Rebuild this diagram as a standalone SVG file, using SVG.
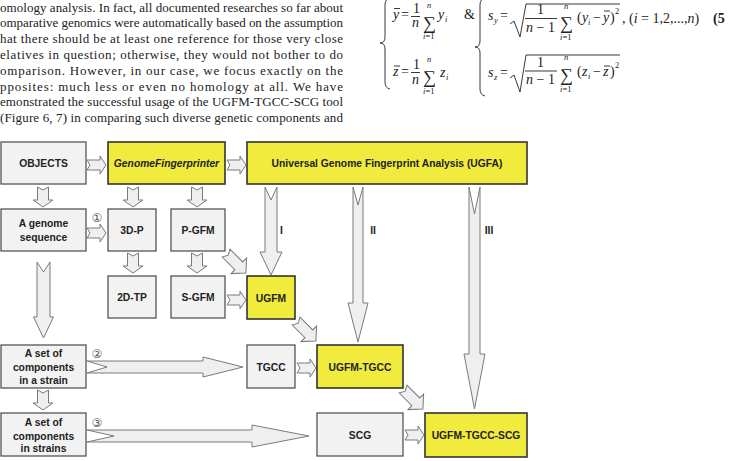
<svg xmlns="http://www.w3.org/2000/svg" width="729" height="461" viewBox="0 0 729 461">
<style>
.box{fill:#f2f2f2;stroke:#555;stroke-width:1.3}
.ybox{fill:#f0eb3c;stroke:#333;stroke-width:1.6}
.lbl{font-family:"Liberation Sans",Arial,sans-serif;font-weight:bold;font-size:10.3px;fill:#222;text-anchor:middle}
.arr{fill:#efefef;stroke:#7a7a7a;stroke-width:1;stroke-linejoin:miter}
.para{font-family:"Liberation Serif","Times New Roman",serif;font-size:13px;fill:#222}
.m{font-family:"Liberation Serif","Times New Roman",serif;font-size:14px;fill:#222}
.mi{font-family:"Liberation Serif","Times New Roman",serif;font-size:14px;font-style:italic;fill:#222}
.s{font-family:"Liberation Serif","Times New Roman",serif;font-size:8.5px;fill:#222}
.si{font-family:"Liberation Serif","Times New Roman",serif;font-size:8.5px;font-style:italic;fill:#222}
.sig{font-family:"Liberation Serif","Times New Roman",serif;font-size:18px;fill:#222}
.ml{stroke:#222;stroke-width:0.9;fill:none}
.circ{font-family:"DejaVu Sans",sans-serif;font-size:12px;fill:#555;text-anchor:middle}
</style>
<rect width="729" height="461" fill="#fff"/>

<g id="paragraph">
<text class="para" x="0" y="11.5" textLength="343" lengthAdjust="spacing">omology analysis. In fact, all documented researches so far about</text>
<text class="para" x="0" y="27.3" textLength="343" lengthAdjust="spacing">omparative genomics were automatically based on the assumption</text>
<text class="para" x="0" y="43.1" textLength="343" lengthAdjust="spacing">hat there should be at least one reference for those very close</text>
<text class="para" x="0" y="58.9" textLength="343" lengthAdjust="spacing">elatives in question; otherwise, they would not bother to do</text>
<text class="para" x="0" y="74.7" textLength="343" lengthAdjust="spacing">omparison. However, in our case, we focus exactly on the</text>
<text class="para" x="0" y="90.5" textLength="343" lengthAdjust="spacing">pposites: much less or even no homology at all. We have</text>
<text class="para" x="0" y="106.3" textLength="343" lengthAdjust="spacing">emonstrated the successful usage of the UGFM-TGCC-SCG tool</text>
<text class="para" x="0" y="122.1" textLength="343" lengthAdjust="spacing">(Figure 6, 7) in comparing such diverse genetic components and</text>
</g>

<g id="formula">
<path class="ml" d="M390,-2 Q385,-1 385,5 L385,37 Q385,43 380,43 Q385,43 385,49 L385,82 Q385,88 390,89" stroke-width="1.4"/>
<path class="ml" d="M485,-2 Q480,-1 480,5 L480,41 Q480,47 475,47 Q480,47 480,53 L480,89 Q480,95 485,96" stroke-width="1.4"/>
<text class="mi" x="393" y="19">y</text>
<line class="ml" x1="394" y1="8.5" x2="400" y2="8.5"/>
<text class="m" x="401" y="19">=</text>
<text class="m" x="413" y="13" font-size="12">1</text>
<line class="ml" x1="411" y1="16.5" x2="420" y2="16.5"/>
<text class="mi" x="412" y="27" font-size="13">n</text>
<text class="si" x="427" y="8">n</text>
<text class="sig" x="423" y="28.5">∑</text>
<text class="s" x="423" y="39"><tspan font-style="italic">i</tspan>=1</text>
<text class="mi" x="438" y="19">y</text>
<text class="si" x="445" y="22">i</text>
<text class="m" x="464" y="19">&amp;</text>
<text class="mi" x="393" y="76">z</text>
<line class="ml" x1="394" y1="66" x2="400" y2="66"/>
<text class="m" x="401" y="76">=</text>
<text class="m" x="413" y="69" font-size="12">1</text>
<line class="ml" x1="411" y1="72.5" x2="420" y2="72.5"/>
<text class="mi" x="412" y="84" font-size="13">n</text>
<text class="si" x="427" y="62">n</text>
<text class="sig" x="423" y="83">∑</text>
<text class="s" x="423" y="94"><tspan font-style="italic">i</tspan>=1</text>
<text class="mi" x="440" y="77">z</text>
<text class="si" x="446" y="80">i</text>
<text class="mi" x="488" y="20">s</text>
<text class="si" x="494" y="23">y</text>
<text class="m" x="500" y="20">=</text>
<path class="ml" d="M510,24 L514,21 L520,37 L526,4 L620,4"/>
<text class="m" x="537" y="14" font-size="13">1</text>
<line class="ml" x1="525" y1="18.5" x2="557" y2="18.5"/>
<text class="m" x="526" y="32" font-size="13"><tspan font-style="italic">n</tspan> − 1</text>
<text class="si" x="564" y="8.5">n</text>
<text class="sig" x="560" y="29">∑</text>
<text class="s" x="560" y="40"><tspan font-style="italic">i</tspan>=1</text>
<text class="m" x="577" y="22">(</text>
<text class="mi" x="582" y="22">y</text>
<text class="si" x="588" y="25">i</text>
<text class="m" x="593" y="22">−</text>
<text class="mi" x="603" y="22">y</text>
<line class="ml" x1="604" y1="11" x2="610" y2="11"/>
<text class="m" x="610" y="22">)</text>
<text class="s" x="615" y="14">2</text>
<text class="m" x="622" y="23">, (<tspan font-style="italic">i</tspan> = 1,2,...,<tspan font-style="italic">n</tspan>)</text>
<text class="m" x="713" y="23" font-weight="bold">(5</text>
<text class="mi" x="488" y="77">s</text>
<text class="si" x="494" y="80">z</text>
<text class="m" x="500" y="77">=</text>
<path class="ml" d="M510,78 L514,75 L520,92 L526,55 L620,55"/>
<text class="m" x="537" y="67" font-size="13">1</text>
<line class="ml" x1="525" y1="71" x2="557" y2="71"/>
<text class="m" x="526" y="84" font-size="13"><tspan font-style="italic">n</tspan> − 1</text>
<text class="si" x="564" y="60">n</text>
<text class="sig" x="560" y="81">∑</text>
<text class="s" x="560" y="92"><tspan font-style="italic">i</tspan>=1</text>
<text class="m" x="577" y="76">(</text>
<text class="mi" x="582" y="76">z</text>
<text class="si" x="588" y="79">i</text>
<text class="m" x="593" y="76">−</text>
<text class="mi" x="603" y="76">z</text>
<line class="ml" x1="604" y1="66" x2="610" y2="66"/>
<text class="m" x="610" y="76">)</text>
<text class="s" x="615" y="68">2</text>
</g>

<g id="connectors">
<polygon class="arr" points="87,160 100,160 100,156 106,165 100,174 100,170 87,170 90,165"/>
<polygon class="arr" points="227,160 240,160 240,156 246,165 240,174 240,170 227,170 230,165"/>
<polygon class="arr" points="87,228 100,228 100,224 106,233 100,242 100,238 87,238 90,233"/>
<polygon class="arr" points="227,295 240,295 240,291 246,300 240,309 240,305 227,305 230,300"/>
<polygon class="arr" points="297,363 310,363 310,359 316,368 310,377 310,373 297,373 300,368"/>
<polygon class="arr" points="405,430 418,430 418,426 424,435 418,444 418,440 405,440 408,435"/>
<polygon class="arr" points="37.5,187 37.5,200 33,200 43,207 53,200 48.5,200 48.5,187 43,190"/>
<polygon class="arr" points="127.5,187 127.5,200 123,200 133,207 143,200 138.5,200 138.5,187 133,190"/>
<polygon class="arr" points="191.5,187 191.5,200 187,200 197,207 207,200 202.5,200 202.5,187 197,190"/>
<polygon class="arr" points="127.5,253 127.5,266 123,266 133,273 143,266 138.5,266 138.5,253 133,256"/>
<polygon class="arr" points="191.5,253 191.5,266 187,266 197,273 207,266 202.5,266 202.5,253 197,256"/>
<polygon class="arr" points="37.5,390 37.5,403 33,403 43,410 53,403 48.5,403 48.5,390 43,393"/>
<polygon class="arr" points="37,262 37,317 33.5,317 43.5,338 53.5,317 50,317 50,262 43.5,272"/>
<polygon class="arr" points="265,187 265,252 260,252 271,275 282,252 277,252 277,187 271,200"/>
<polygon class="arr" points="353,187 353,303 348,303 358,342 368,303 363,303 363,187 358,205"/>
<polygon class="arr" points="469,187 469,354 464,354 474.5,409 485,354 480,354 480,187 474.5,214"/>
<polygon class="arr" points="87,361 203,361 203,357 243,367 203,377 203,373 87,373 107,367"/>
<polygon class="arr" points="87,430 252,430 252,425 309,436 252,447 252,442 87,442 114,436"/>
<polygon class="arr" transform="translate(236,263) rotate(45)" points="-14,-5.5 4,-5.5 4,-11 14,0 4,11 4,5.5 -14,5.5 -11,0"/>
<polygon class="arr" transform="translate(306,331) rotate(45)" points="-14,-5.5 4,-5.5 4,-11 14,0 4,11 4,5.5 -14,5.5 -11,0"/>
<polygon class="arr" transform="translate(413,399) rotate(45)" points="-14,-5.5 4,-5.5 4,-11 14,0 4,11 4,5.5 -14,5.5 -11,0"/>
<text class="lbl" x="281.5" y="234">I</text>
<text class="lbl" x="373" y="234">II</text>
<text class="lbl" x="489" y="234">III</text>
<text class="circ" x="97" y="221.5">①</text>
<text class="circ" x="97" y="357.5">②</text>
<text class="circ" x="97" y="426.5">③</text>
</g>

<g id="objects"><rect class="box" x="1" y="142" width="85" height="42"/><text class="lbl" x="43.5" y="167">OBJECTS</text></g>
<g id="genomefingerprinter"><rect class="ybox" x="108" y="142" width="117" height="42"/><text class="lbl" x="166.5" y="167" font-style="italic">GenomeFingerprinter</text></g>
<g id="ugfa"><rect class="ybox" x="247" y="142" width="280" height="42"/><text class="lbl" x="387" y="167">Universal Genome Fingerprint Analysis (UGFA)</text></g>
<g id="genome"><rect class="box" x="1" y="209" width="85" height="42"/><text class="lbl" x="43.5" y="227">A genome</text><text class="lbl" x="43.5" y="241">sequence</text></g>
<g id="p3d"><rect class="box" x="108" y="209" width="48" height="42"/><text class="lbl" x="132" y="234">3D-P</text></g>
<g id="pgfm"><rect class="box" x="171" y="209" width="54" height="42"/><text class="lbl" x="198" y="234">P-GFM</text></g>
<g id="tp2d"><rect class="box" x="108" y="276" width="48" height="42"/><text class="lbl" x="132" y="301">2D-TP</text></g>
<g id="sgfm"><rect class="box" x="171" y="276" width="54" height="42"/><text class="lbl" x="198" y="301">S-GFM</text></g>
<g id="ugfm"><rect class="ybox" x="247" y="276" width="48" height="43"/><text class="lbl" x="271" y="301.5">UGFM</text></g>
<g id="strain"><rect class="box" x="1" y="345" width="85" height="43"/><text class="lbl" x="43.5" y="357">A set of</text><text class="lbl" x="43.5" y="370.5">components</text><text class="lbl" x="43.5" y="384">in a strain</text></g>
<g id="tgcc"><rect class="box" x="247" y="345" width="48" height="43"/><text class="lbl" x="271" y="370.5">TGCC</text></g>
<g id="ugfm-tgcc"><rect class="ybox" x="317" y="345" width="86" height="43"/><text class="lbl" x="360" y="370.5">UGFM-TGCC</text></g>
<g id="strains"><rect class="box" x="1" y="413" width="85" height="43"/><text class="lbl" x="43.5" y="425.5">A set of</text><text class="lbl" x="43.5" y="439.5">components</text><text class="lbl" x="43.5" y="452">in strains</text></g>
<g id="scg"><rect class="box" x="317" y="413" width="86" height="43"/><text class="lbl" x="360" y="438.5">SCG</text></g>
<g id="ugfm-tgcc-scg"><rect class="ybox" x="425" y="413" width="102" height="44"/><text class="lbl" x="476" y="439">UGFM-TGCC-SCG</text></g>
</svg>
